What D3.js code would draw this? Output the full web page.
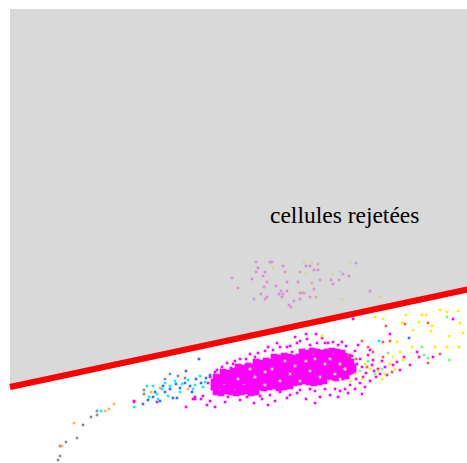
<!DOCTYPE html>
<html>
<head>
<meta charset="utf-8">
<script src="https://cdn.jsdelivr.net/npm/d3@7"></script>
<style>
  body { margin: 0; background: #fff; }
</style>
</head>
<body>
<div id="plot"></div>
<script>
/*
* Gating plot : cells under the red line are kept, the grey zone is rejected
*/

// gate boundary (scatter units)
var gateLine = [[0, 82], [460, 180]];
var gateLabel = "cellules rejetées";

// dense centre of the main population
var magentaCore = [
    [206,77],[211,76],[216,78],[221,77],[226,76],[231,77],[236,78],[241,76],[246,77],
    [204,82],[209,83],[214,81],[219,82],[224,83],[229,82],[234,81],[239,82],[244,83],[249,82],[254,81],[259,82],[264,83],[269,81],[274,82],[280,83],
    [204,87],[209,86],[214,88],[219,87],[224,86],[229,87],[234,88],[239,87],[244,86],[249,87],[254,88],[259,87],[264,86],[269,87],[274,88],[279,87],[284,86],[289,87],[294,88],[299,87],[304,86],[309,87],[314,88],
    [206,92],[211,91],[216,93],[221,92],[226,91],[231,92],[236,93],[241,92],[246,91],[251,92],[256,93],[261,92],[266,91],[271,92],[276,93],[281,92],[286,91],[291,92],[296,93],[301,92],[306,91],[311,92],[316,93],[321,92],[326,91],[331,92],[336,93],
    [213,97],[218,96],[223,98],[228,97],[233,96],[238,97],[243,98],[248,97],[253,96],[258,97],[263,98],[268,97],[273,96],[278,97],[283,98],[288,97],[293,96],[298,97],[303,98],[308,97],[313,96],[318,97],[323,98],[328,97],[333,96],[338,97],[343,98],
    [228,102],[233,101],[238,103],[243,102],[248,101],[253,102],[258,103],[263,102],[268,101],[273,102],[278,103],[283,102],[288,101],[293,102],[298,103],[303,102],[308,101],[313,102],[318,103],[323,102],[328,101],[333,102],[338,103],[343,102],
    [246,107],[251,106],[256,108],[261,107],[266,106],[271,107],[276,108],[281,107],[286,106],[291,107],[296,108],[301,107],[306,106],[311,107],[316,108],[321,107],[326,106],[331,107],[336,108],[341,107],
    [264,112],[269,111],[274,113],[279,112],[284,111],[289,112],[294,113],[299,112],[304,111],[309,112],[314,113],[319,112],[324,111],[329,112],[334,113],[338,112],
    [292,117],[297,116],[302,118],[307,117],[312,116],[317,117],[322,118],[327,117],[332,116]
];

// scattered events of the main population (also the rejected ones above the gate)
var magenta = [
    [217,106],[223,105],[221,101],[207,99],[230,110],[236,110],[245,112],[263,119],[267,126],[277,122],[287,126],[297,130],[296,135],[307,126],[282,117],
    [237,72],[230,69],[218,72],[270,77],[277,71],[287,76],[210,76],[200,68],[197,64],[185,70],[185,72],[193,73],[176,62],[147,67],[124,68],[124,67],[183,70],[191,70],
    [306,135],[323,127],[318,126],[332,127],[343,150],[380,135],[387,107],[390,99],[400,104],[407,117],[409,112],[443,150],[423,112],[360,119],[363,109],
    [345,118],[350,110],[352,102],[356,96],[358,114],[362,104],[366,92],[368,100],[372,108],[346,90],[350,86],[355,82],[360,88],[370,95],[375,102],
    [340,84],[335,80],[330,78],[338,76],[325,80],[315,80],[320,74],[305,78],[300,80],[310,72],[290,79],[260,74],[250,73],[255,118],[240,115],
    [270,122],[280,123],[300,124],[315,126],[328,124],[336,123],[290,128],[252,70],[265,68],[232,78],
    [202,80],[198,86],[200,92],[205,97],[212,102],[225,108],[248,116],[258,122],[285,132],[312,131],[348,124],[353,92],[342,113],[347,105],
    [364,98],[377,94],[383,104],[394,112],[352,75],[345,80],[328,72],[296,70],[305,66],[280,74],[244,66],[258,64],[215,67],[205,62],
    // rejected
    [222,191],[228,181],[246,207],[248,201],[246,197],[253,193],[255,197],[257,187],[254,182],[260,207],[262,207],[273,203],[275,197],[277,187],
    [271,178],[269,175],[273,175],[272,172],[277,178],[251,175],[257,172],[255,170],[279,164],[281,162],[290,197],[288,187],[290,176],[294,176],
    [290,170],[296,203],[300,203],[304,199],[308,199],[302,186],[304,180],[300,172],[310,189],[321,189],[323,185],[329,189],[333,195],[339,193],
    [360,178],[242,190],[266,183],[284,168]
];

var yellow = [
    [263,201],[294,207],[302,206],[296,195],[323,195],[340,207],[332,170],[303,185],[370,172],
    [396,154],[392,146],[373,150],[365,152],[412,154],[416,154],[430,159],[437,157],[448,158],[409,147],[422,143],[421,138],[439,133],
    [402,122],[387,127],[390,117],[383,112],[393,109],[312,133],[437,122],[449,122],[425,122],[403,139],[450,146],[453,136],
    [335,100],[345,95],[355,105],[360,100],[368,98],[375,95],[380,105],[352,90],[340,88],[330,105],[385,100],[372,90]
];
var green = [[331,197],[437,152],[412,122],[418,111],[414,114],[439,109],[378,116],[365,95],[358,108],[350,98],[372,100]];
var red = [
    [308,205],[306,172],[292,176],[418,146],[430,115],[418,106],[382,97],[352,128],[358,122],[363,117],
    [373,112],[373,127],[380,128],[357,102],[395,145],[376,143],[338,113],[346,110]
];
var grey = [[134,79],[134,75],[87,58],[87,54],[81,52],[73,44],[67,31],[56,27],[50,23],[50,13],[48,9],[168,93],[155,90],[175,91],[160,95]];
var orange = [[141,77],[104,65],[99,60],[95,58],[64,46],[52,23],[150,81],[178,80]];
var cyan = [
    [137,83],[143,83],[139,72],[147,75],[124,62],[91,58],[152,80],[155,86],[160,83],[165,88],[172,85],[178,89],
    [185,84],[190,93],[170,77],[158,73],[195,87],[148,70],[183,80],[193,82],[369,128]
];
var blue = [
    [145,77],[143,72],[133,65],[176,98],[189,110],[163,71],[153,83],[160,80],[166,85],[170,81],[175,86],[180,83],
    [186,90],[191,86],[196,91],[155,77],[182,77],[167,71],[150,68],[200,94],[138,69],[399,131],[346,206],[244,170]
];
// pale events hidden in the dense centre
var paleGreen = [[245,92],[262,100],[280,95],[300,98],[315,105],[290,88],[325,95],[270,88],[310,92],[335,100],[228,90],[255,84],[320,110],[296,108]];
var paleYellow = [[255,97],[285,103],[305,110],[320,88],[240,100],[330,90],[275,108]];

var width = 467, height = 463;

var svg = d3.select("#plot")
    .append("svg")
    .attr("width", width)
    .attr("height", height);

var x = d3.scaleLinear().domain([0, 460]).range([10, 470]);
var y = d3.scaleLinear().domain([0, 460]).range([469, 9]);

// one layer per population, drawn in this order
var layers = [
    { data: magentaCore, color: "#ff00ff", size: 6.6 },
    { data: magenta, color: "#ff00ff", size: 2.6 },
    { data: grey, color: "#8c8c8c", size: 2.6 },
    { data: orange, color: "#ffb347", size: 2.6 },
    { data: cyan, color: "#00f0ff", size: 2.6 },
    { data: blue, color: "#3d6bff", size: 2.6 },
    { data: yellow, color: "#ffee00", size: 2.6 },
    { data: green, color: "#80ee80", size: 2.6 },
    { data: red, color: "#ff5a4a", size: 2.6 },
    { data: paleGreen, color: "#b8f0a0", size: 2.6 },
    { data: paleYellow, color: "#f5f58c", size: 2.6 }
];

layers.forEach(function (l) {
    svg.append("g")
        .selectAll("rect")
        .data(l.data)
        .enter()
        .append("rect")
        .attr("x", function (d) { return x(d[0]) - l.size / 2; })
        .attr("y", function (d) { return y(d[1]) - l.size / 2; })
        .attr("width", l.size)
        .attr("height", l.size)
        .attr("fill", l.color);
});

// rejected zone (grey, see-through so the events under it stay visible)
var zone = [gateLine[0], gateLine[1], [460, 460], [0, 460]];
svg.append("path")
    .datum(zone)
    .attr("d", d3.line().x(function (d) { return x(d[0]); }).y(function (d) { return y(d[1]); }).curve(d3.curveLinearClosed))
    .attr("fill", "#c9c9c9")
    .attr("fill-opacity", 0.7);

// gate
svg.append("path")
    .datum(gateLine)
    .attr("d", d3.line().x(function (d) { return x(d[0]); }).y(function (d) { return y(d[1]) - 2; }))
    .attr("stroke", "#b4b4b4")
    .attr("stroke-width", 2)
    .attr("fill", "none");
svg.append("path")
    .datum(gateLine)
    .attr("d", d3.line().x(function (d) { return x(d[0]); }).y(function (d) { return y(d[1]); }))
    .attr("stroke", "#ff0000")
    .attr("stroke-width", 6)
    .attr("fill", "none");

svg.append("text")
    .attr("x", 270)
    .attr("y", 223)
    .style("font-family", "'Liberation Serif', 'Times New Roman', serif")
    .style("font-size", "23.5px")
    .style("fill", "#000")
    .text(gateLabel);
</script>
</body>
</html>
